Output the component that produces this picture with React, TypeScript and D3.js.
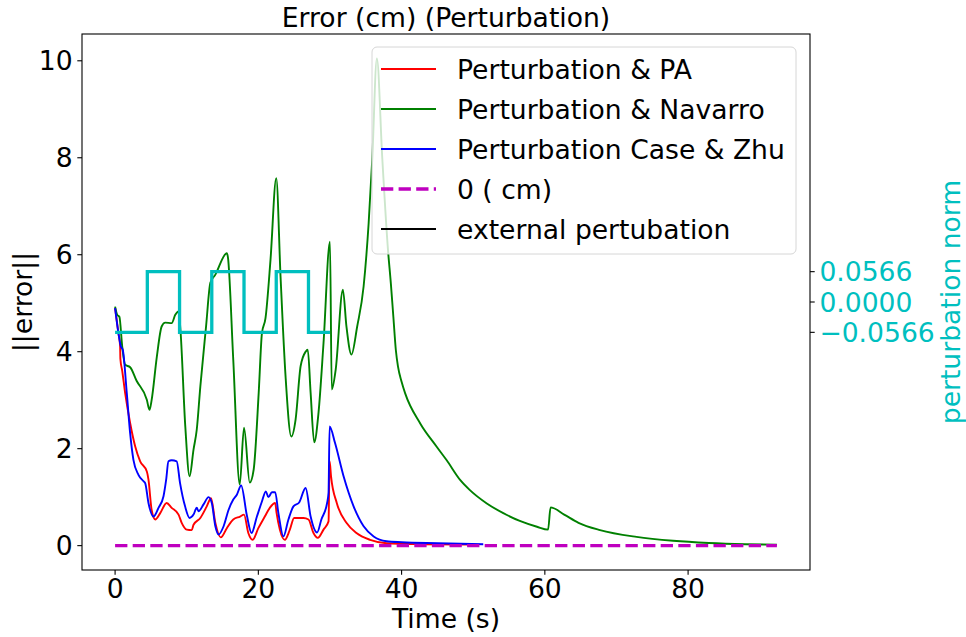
import React from 'react';
import * as d3 from 'd3';

// ---------- data ----------
const paTime = [0, 0.47, 0.7, 0.74, 1.0, 1.4, 2.1, 2.8, 3.5, 4.43, 4.66, 5.1, 5.6, 6.3, 7.2, 7.9, 8.86, 9.3, 10.0, 10.7, 10.95, 11.9, 12.8, 13.4, 14.0, 14.75, 15.6, 16.5, 17.45, 18.0, 18.6, 19.2, 20.0, 20.9, 21.6, 22.35, 22.55, 23.0, 23.7, 24.4, 25.0, 25.6, 26.3, 27.0, 27.7, 28.3, 29.1, 29.8, 29.95, 30.15, 30.95, 32.3, 33.7, 35.6, 37.9, 42, 50];
const paError = [4.9, 4.38, 4.12, 3.85, 3.6, 3.15, 2.53, 2.05, 1.74, 1.53, 1.36, 0.74, 0.54, 0.67, 0.88, 0.78, 0.64, 0.47, 0.33, 0.32, 0.43, 0.57, 0.81, 0.98, 0.47, 0.17, 0.36, 0.54, 0.6, 0.64, 0.26, 0.12, 0.36, 0.6, 0.78, 0.88, 0.67, 0.33, 0.12, 0.33, 0.57, 0.57, 0.57, 0.54, 0.26, 0.16, 0.33, 0.5, 1.74, 1.43, 0.88, 0.47, 0.26, 0.12, 0.05, 0.03, 0.02];

const navarroTime = [0, 0.3, 0.6, 1.0, 1.4, 2.1, 3.0, 4.43, 4.8, 5.1, 5.83, 6.5, 7.0, 7.9, 8.4, 8.86, 9.1, 9.8, 10.4, 10.95, 11.4, 11.9, 12.7, 13.3, 14.0, 15.6, 15.75, 16.5, 17.4, 18.0, 18.8, 19.35, 20.05, 20.5, 21.0, 21.7, 22.5, 23.1, 23.8, 24.6, 25.2, 25.9, 26.6, 26.9, 27.3, 27.8, 28.4, 29.1, 30.0, 30.25, 30.8, 31.8, 32.3, 33.0, 33.8, 34.7, 35.4, 35.9, 36.55, 37.3, 38.1, 38.5, 38.85, 39.2, 39.5, 40.0, 40.5, 42.6, 44.9, 46.3, 48.2, 49.5, 51.9, 54.2, 56.5, 58.9, 60.45, 60.8, 62.7, 64.7, 67.7, 72.8, 77.9, 82.9, 88.0, 92.4];
const navarroError = [4.93, 4.76, 4.72, 4.1, 3.73, 3.68, 3.4, 3.01, 2.8, 3.0, 3.9, 4.52, 4.6, 4.59, 4.76, 4.83, 4.5, 2.46, 1.43, 1.98, 2.39, 3.28, 4.52, 5.42, 5.59, 6.03, 5.95, 3.83, 1.26, 2.43, 1.3, 1.57, 3.15, 4.38, 4.69, 5.9, 7.58, 5.55, 3.49, 2.25, 2.6, 3.7, 4.0, 4.04, 3.15, 2.13, 2.74, 4.18, 6.27, 3.22, 3.63, 5.28, 4.52, 3.94, 4.52, 5.35, 6.65, 7.96, 10.05, 8.0, 6.1, 5.41, 4.72, 4.03, 3.69, 3.38, 3.14, 2.52, 2.04, 1.76, 1.35, 1.15, 0.87, 0.67, 0.51, 0.39, 0.33, 0.79, 0.64, 0.47, 0.32, 0.18, 0.1, 0.055, 0.03, 0.02];

const zhuTime = [0, 0.47, 0.8, 1.07, 1.63, 2.1, 2.56, 3.26, 3.96, 4.2, 4.66, 5.36, 6.06, 6.76, 7.13, 7.45, 7.9, 8.6, 9.07, 9.77, 10.4, 10.95, 11.4, 11.65, 12.35, 13.05, 13.5, 14.0, 14.45, 15.15, 15.85, 16.5, 17.0, 17.6, 18.4, 19.05, 19.8, 20.5, 21.05, 21.4, 21.9, 22.35, 22.8, 23.5, 24.2, 24.9, 25.7, 26.6, 27.3, 28.2, 28.8, 29.6, 29.8, 29.95, 30.7, 31.9, 33.3, 34.7, 36.1, 37.9, 40, 45, 51.4];
const zhuError = [4.9, 4.38, 4.11, 4.04, 3.15, 2.32, 1.77, 1.46, 1.33, 1.29, 0.88, 0.6, 0.78, 1.02, 1.36, 1.74, 1.76, 1.74, 1.29, 0.81, 0.57, 0.64, 0.78, 0.71, 0.85, 1.0, 0.88, 0.4, 0.23, 0.4, 0.74, 0.95, 1.05, 1.24, 0.62, 0.26, 0.6, 0.91, 1.12, 1.0, 1.1, 1.1, 0.67, 0.19, 0.54, 0.81, 0.89, 1.19, 0.6, 0.27, 0.54, 0.88, 1.09, 2.46, 2.12, 1.43, 0.81, 0.4, 0.19, 0.09, 0.07, 0.05, 0.03];

const zeroTime = [0, 92.4];
const zeroError = [0, 0];

const pertTime = [0, 4.5, 9, 13.5, 18, 22.5, 27, 30];
const pertValue = [-0.0566, 0.0566, -0.0566, 0.0566, -0.0566, 0.0566, -0.0566, -0.0566];

const xTicks = [0, 20, 40, 60, 80];
const yTicks = [0, 2, 4, 6, 8, 10];
const y2Ticks = [-0.0566, 0, 0.0566];
const y2Domain = [-0.5, 0.5];

const legendLabels = ['Perturbation & PA', 'Perturbation & Navarro', 'Perturbation Case & Zhu', '0 ( cm)', 'external pertubation'];
const legendColors = ['#ff0000', '#008000', '#0000ff', '#bf00bf', '#000000'];

const titleText = 'Error (cm) (Perturbation)';
const xLabelText = 'Time (s)';
const yLabelText = '||error||';
const y2LabelText = 'perturbation norm';

// ---------- layout ----------
const W = 966, H = 637;
const L = 82, R = 810, T = 34, B = 570;
const FS = 26.6;
const TICK = 4.7;

const zip = (a: number[], b: number[]) => a.map((v, i) => [v, b[i]] as [number, number]);

export default function App() {
  const allT = [...paTime, ...navarroTime, ...zhuTime, ...zeroTime];
  const allV = [...paError, ...navarroError, ...zhuError, ...zeroError];
  const [tMin, tMax] = d3.extent(allT) as [number, number];
  const [vMin, vMax] = d3.extent(allV) as [number, number];
  const tp = (tMax - tMin) * 0.05;
  const vp = (vMax - vMin) * 0.05;
  const x = d3.scaleLinear().domain([tMin - tp, tMax + tp]).range([L, R]);
  const y = d3.scaleLinear().domain([vMin - vp, vMax + vp]).range([B, T]);
  const y2 = d3.scaleLinear().domain(y2Domain).range([B, T]);

  const line = d3.line<[number, number]>().x(d => x(d[0])).y(d => y(d[1])).curve(d3.curveMonotoneX);
  const straight = d3.line<[number, number]>().x(d => x(d[0])).y(d => y(d[1]));
  const stepLine = d3.line<[number, number]>().x(d => x(d[0])).y(d => y2(d[1])).curve(d3.curveStepAfter);

  const fmt2 = (v: number) => (v < 0 ? '\u2212' : '') + Math.abs(v).toFixed(4);

  const legX = 372, legY = 47, legW = 424, legH = 207;
  const rowY0 = 69, rowGap = 40;

  return (
    <svg width={W} height={H} style={{ position: 'absolute', left: 0, top: 0, fontFamily: 'DejaVu Sans' }}>
      <rect x={0} y={0} width={W} height={H} fill="#ffffff" />
      <defs>
        <clipPath id="plotArea"><rect x={L} y={T} width={R - L} height={B - T} /></clipPath>
      </defs>
      <g clipPath="url(#plotArea)" fill="none" strokeLinejoin="round">
        <path d={line(zip(paTime, paError)) || ''} stroke="#ff0000" strokeWidth={1.9} />
        <path d={line(zip(navarroTime, navarroError)) || ''} stroke="#008000" strokeWidth={1.9} />
        <path d={line(zip(zhuTime, zhuError)) || ''} stroke="#0000ff" strokeWidth={1.9} />
        <path d={straight(zip(zeroTime, zeroError)) || ''} stroke="#bf00bf" strokeWidth={3.3} strokeDasharray="12.3 5.3" />
      </g>
      {/* legend */}
      <g>
        <rect x={legX} y={legY} width={legW} height={legH} rx={5} ry={5} fill="#ffffff" fillOpacity={0.8} stroke="#d6d6d6" strokeWidth={1} />
        {legendLabels.map((lab, i) => {
          const cy = rowY0 + i * rowGap;
          return (
            <g key={lab}>
              <line x1={381} x2={436} y1={cy} y2={cy} stroke={legendColors[i]} strokeWidth={i === 3 ? 3.3 : 1.9} strokeDasharray={i === 3 ? '12.3 5.3' : undefined} />
              <text x={457} y={cy + 9.7} fontSize={FS} fill="#000">{lab}</text>
            </g>
          );
        })}
      </g>
      {/* perturbation on twin axis */}
      <g clipPath="url(#plotArea)">
        <path d={stepLine(zip(pertTime, pertValue)) || ''} fill="none" stroke="#00bfbf" strokeWidth={3.3} />
      </g>
      {/* spines */}
      <rect x={L} y={T} width={R - L} height={B - T} fill="none" stroke="#000" strokeWidth={1.1} />
      {/* x ticks */}
      {xTicks.map(t => (
        <g key={'x' + t}>
          <line x1={x(t)} x2={x(t)} y1={B} y2={B + TICK} stroke="#000" strokeWidth={1.1} />
          <text x={x(t)} y={598} fontSize={FS} textAnchor="middle">{t}</text>
        </g>
      ))}
      {/* y ticks */}
      {yTicks.map(v => (
        <g key={'y' + v}>
          <line x1={L - TICK} x2={L} y1={y(v)} y2={y(v)} stroke="#000" strokeWidth={1.1} />
          <text x={L - TICK - 4.7} y={y(v) + 9.7} fontSize={FS} textAnchor="end">{v}</text>
        </g>
      ))}
      {/* y2 ticks */}
      {y2Ticks.map(v => (
        <g key={'y2' + v}>
          <line x1={R} x2={R + TICK} y1={y2(v)} y2={y2(v)} stroke="#000" strokeWidth={1.1} />
          <text x={R + TICK + 4.7} y={y2(v) + 9.7} fontSize={FS} fill="#00bfbf">{fmt2(v)}</text>
        </g>
      ))}
      {/* labels */}
      <text x={(L + R) / 2} y={26.7} fontSize={FS} textAnchor="middle">{titleText}</text>
      <text x={(L + R) / 2} y={628} fontSize={FS} textAnchor="middle">{xLabelText}</text>
      <text transform={`translate(32,${(T + B) / 2}) rotate(-90)`} fontSize={FS} textAnchor="middle">{yLabelText}</text>
      <text transform={`translate(959.5,${(T + B) / 2}) rotate(-90)`} fontSize={FS} textAnchor="middle" fill="#00bfbf">{y2LabelText}</text>
    </svg>
  );
}
